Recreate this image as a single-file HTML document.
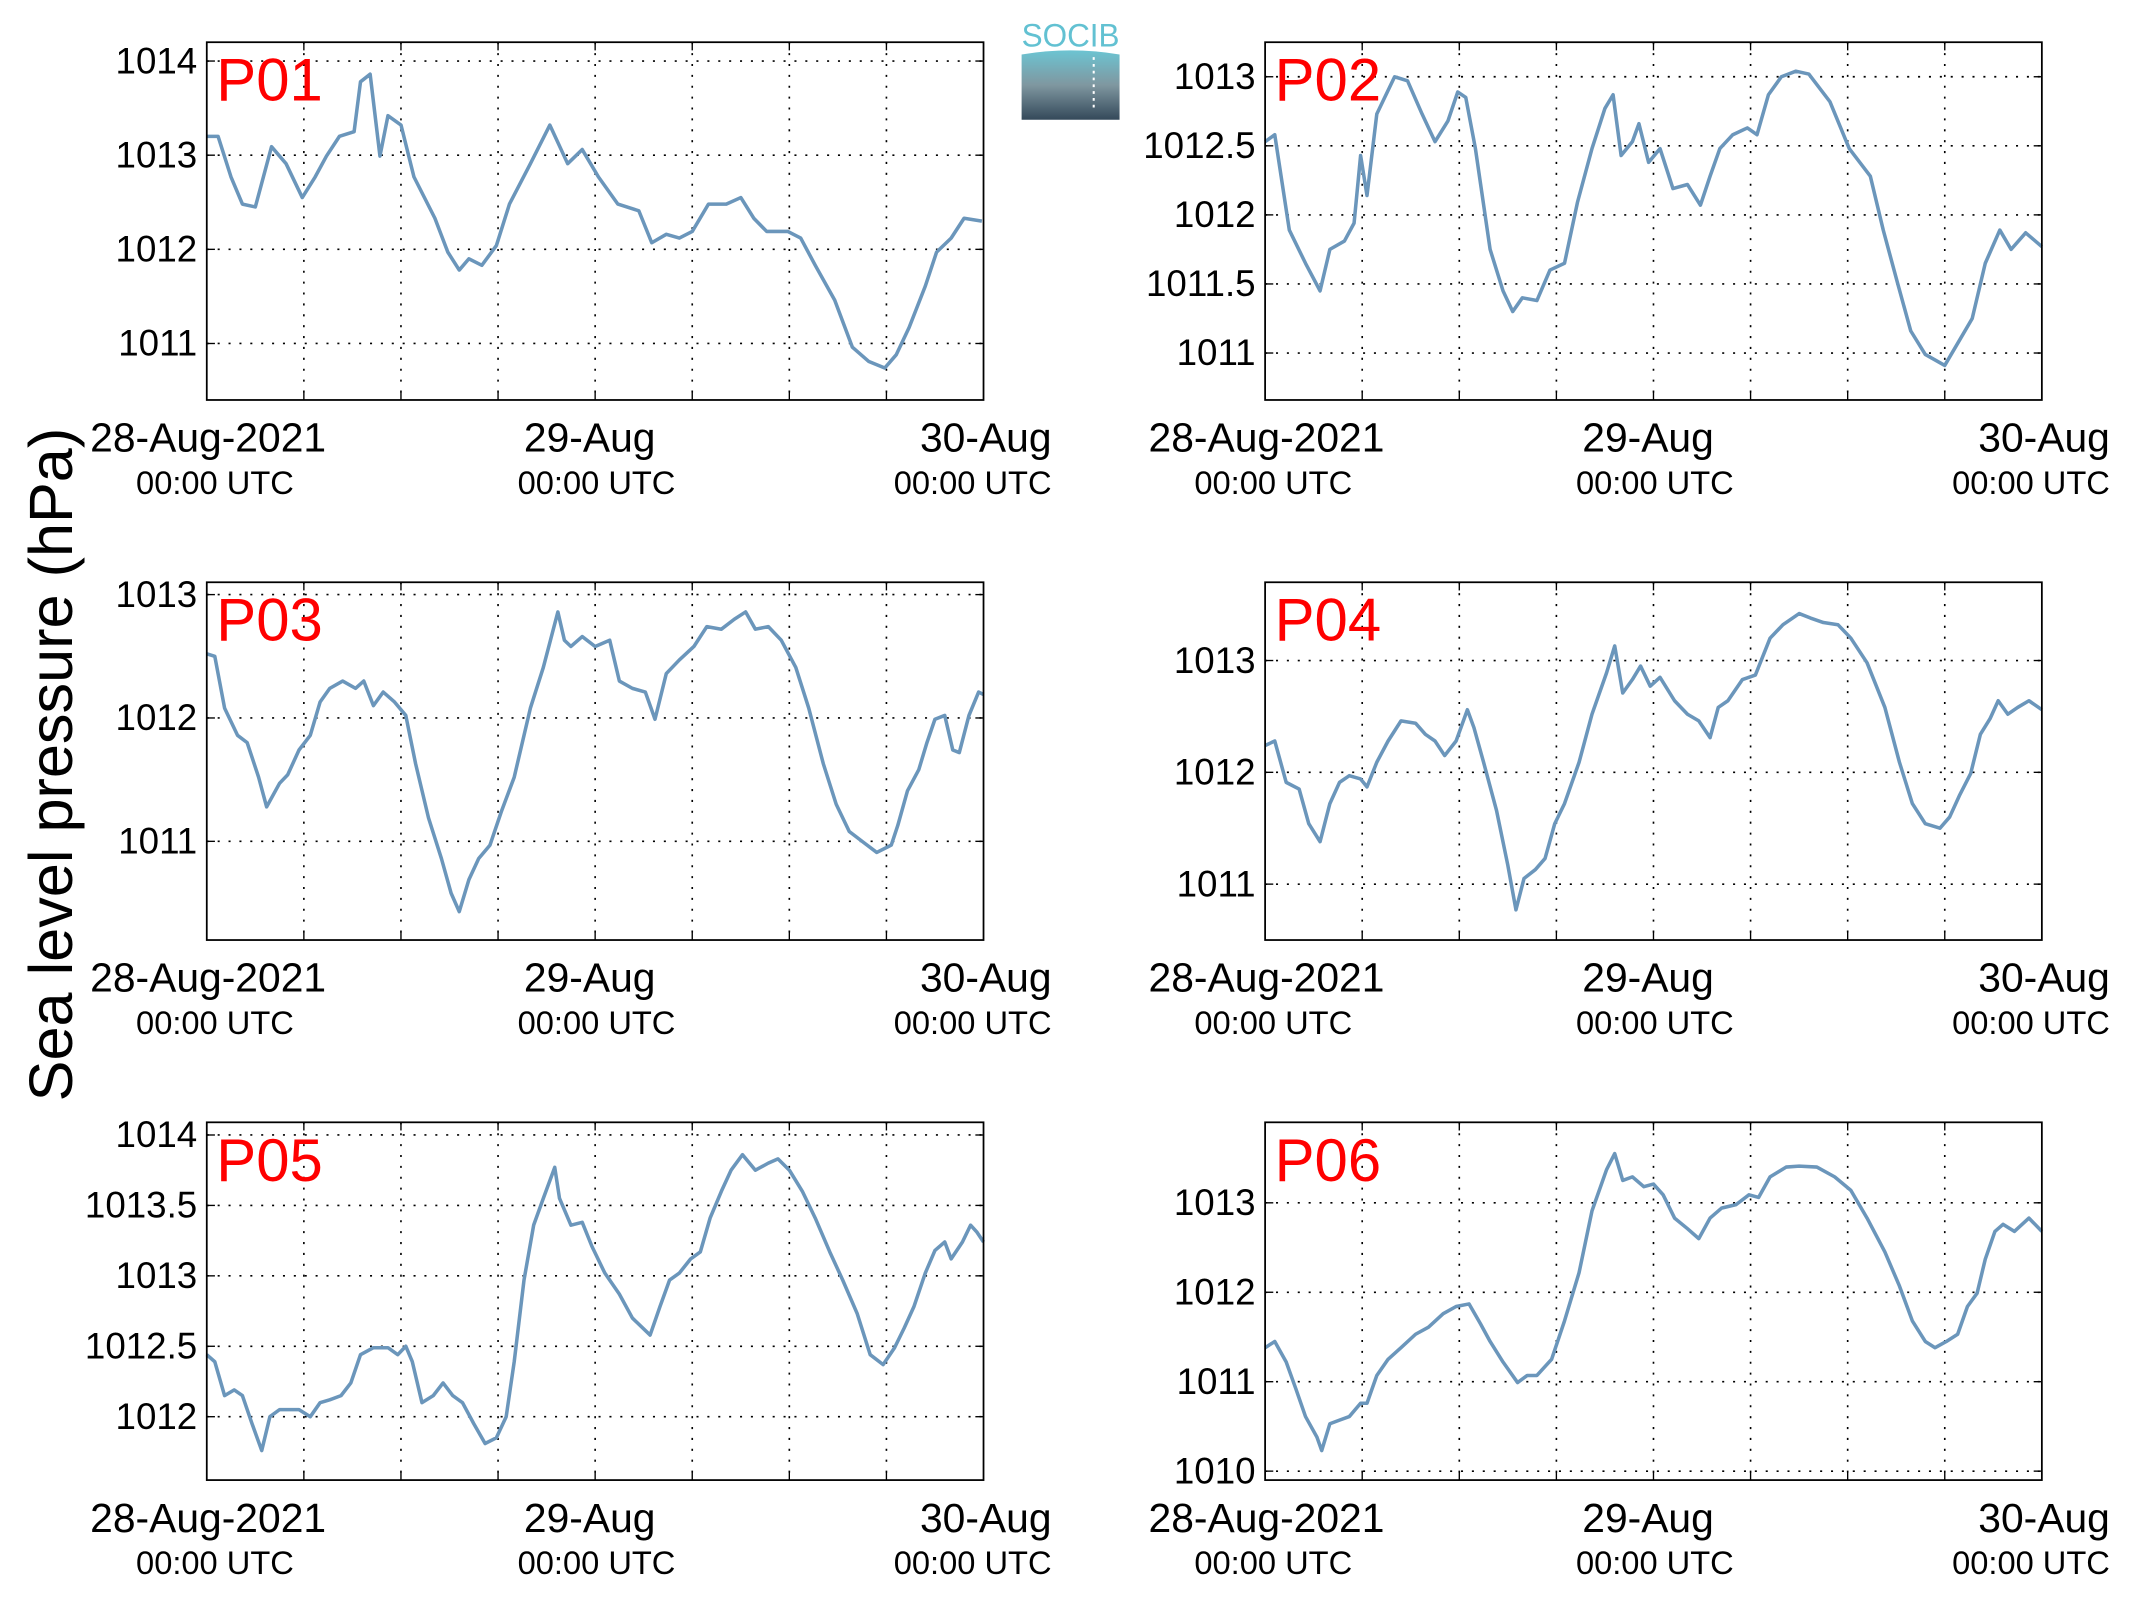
<!DOCTYPE html>
<html><head><meta charset="utf-8"><style>
html,body{margin:0;padding:0;background:#fff;}
svg{display:block;}
text{font-family:"Liberation Sans",sans-serif;}
</style></head><body>
<svg id="fig" width="2133" height="1608" viewBox="0 0 1568 1182" xmlns="http://www.w3.org/2000/svg">
<defs>
<linearGradient id="lg" x1="0" y1="0" x2="0" y2="1"><stop offset="0" stop-color="#6cc4d2"/><stop offset="0.5" stop-color="#7f97a0"/><stop offset="1" stop-color="#34495a"/></linearGradient>
</defs>
<g>
<text x="787" y="34" text-anchor="middle" font-size="24" fill="#62c1d2" textLength="72" lengthAdjust="spacingAndGlyphs">SOCIB</text>
<path d="M751 40 Q787 34 823 40 L823 88 L751 88 Z" fill="url(#lg)"/>
<line x1="804" y1="42" x2="804" y2="80" stroke="#fff" stroke-width="1.5" stroke-dasharray="2,3"/>
</g>
<text transform="translate(53,562) rotate(-90)" text-anchor="middle" font-size="45">Sea level pressure (hPa)</text>
</svg>
<script>
const P01_t=[0,0.7,1.5,2.2,3,4,4.9,5.9,6.7,7.4,8.2,9.1,9.5,10.1,10.7,11.2,12,12.8,14.1,14.9,15.6,16.2,17,17.9,18.7,20,21.2,22.3,23.2,24.2,25.4,26.7,27.5,28.4,29.2,30,31,32.1,33,33.8,34.6,35.9,36.7,37.6,38.8,39.9,40.9,41.9,42.6,43.4,44.4,45.1,46,46.8,47.9];
const P01_v=[1013.20,1013.20,1012.77,1012.48,1012.45,1013.09,1012.91,1012.55,1012.77,1012.99,1013.20,1013.25,1013.78,1013.86,1012.99,1013.42,1013.32,1012.77,1012.33,1011.97,1011.78,1011.90,1011.83,1012.04,1012.48,1012.91,1013.32,1012.91,1013.06,1012.77,1012.48,1012.41,1012.07,1012.16,1012.12,1012.19,1012.48,1012.48,1012.55,1012.33,1012.19,1012.19,1012.12,1011.83,1011.46,1010.96,1010.81,1010.74,1010.88,1011.17,1011.61,1011.97,1012.12,1012.33,1012.30];
const P02_t=[0,0.6,1.5,2.5,3.4,4.0,4.9,5.5,5.9,6.3,6.9,8.0,8.8,9.7,10.5,11.3,11.9,12.4,13.0,13.9,14.7,15.3,15.9,16.8,17.6,18.5,19.3,20.2,21.0,21.5,22.0,22.7,23.1,23.7,24.4,25.2,26.1,26.9,27.5,28.1,28.9,29.8,30.4,31.1,31.9,32.8,33.6,34.9,36.1,37.4,38.2,39.1,39.9,40.8,42.0,43.0,43.7,44.5,45.4,46.1,47.0,48.0];
const P02_v=[1012.53,1012.58,1011.89,1011.65,1011.45,1011.75,1011.81,1011.94,1012.43,1012.14,1012.73,1013.00,1012.97,1012.73,1012.53,1012.68,1012.89,1012.85,1012.48,1011.75,1011.45,1011.30,1011.40,1011.38,1011.60,1011.65,1012.09,1012.48,1012.77,1012.87,1012.43,1012.53,1012.66,1012.38,1012.48,1012.19,1012.22,1012.07,1012.28,1012.48,1012.58,1012.63,1012.58,1012.87,1013.00,1013.04,1013.02,1012.82,1012.48,1012.28,1011.89,1011.50,1011.16,1010.99,1010.91,1011.11,1011.25,1011.65,1011.89,1011.75,1011.87,1011.77];
const P03_t=[0,0.5,1.1,1.9,2.5,3.2,3.7,4.5,5,5.7,6.4,7,7.6,8.4,9.2,9.7,10.3,10.9,11.6,12.3,12.9,13.7,14.5,15.1,15.6,16.2,16.8,17.5,18.2,19,20,20.8,21.7,22.1,22.5,23.2,24,24.9,25.5,26.3,27.1,27.7,28.4,29.2,30.1,30.9,31.8,32.6,33.3,33.9,34.7,35.5,36.4,37.2,38.1,38.9,39.7,40.6,41.4,42.3,42.7,43.3,44,44.5,45,45.6,46.1,46.5,47.1,47.7,48];
const P03_v=[1012.52,1012.50,1012.08,1011.86,1011.80,1011.52,1011.28,1011.47,1011.54,1011.74,1011.86,1012.13,1012.24,1012.30,1012.24,1012.30,1012.10,1012.21,1012.13,1012.02,1011.63,1011.19,1010.86,1010.58,1010.43,1010.69,1010.86,1010.97,1011.24,1011.52,1012.08,1012.41,1012.86,1012.63,1012.58,1012.66,1012.58,1012.63,1012.30,1012.24,1012.21,1011.99,1012.36,1012.47,1012.58,1012.74,1012.72,1012.80,1012.86,1012.72,1012.74,1012.63,1012.41,1012.08,1011.63,1011.30,1011.08,1010.99,1010.91,1010.97,1011.13,1011.41,1011.58,1011.80,1011.99,1012.02,1011.74,1011.72,1012.02,1012.21,1012.19];
const P04_t=[0,0.6,1.3,2.1,2.7,3.4,4.0,4.6,5.2,5.9,6.3,6.9,7.6,8.4,9.3,9.9,10.5,11.1,11.8,12.5,12.9,13.5,14.3,15.0,15.5,16.0,16.7,17.3,17.9,18.5,19.4,20.2,21.1,21.6,22.1,22.7,23.2,23.8,24.4,25.3,26.1,26.8,27.5,28.0,28.6,29.5,30.3,31.2,32.0,33.0,33.7,34.5,35.4,36.2,37.2,38.3,39.2,40.0,40.8,41.7,42.3,42.9,43.6,44.2,44.8,45.3,45.9,46.5,47.2,48.0];
const P04_v=[1012.24,1012.28,1011.91,1011.85,1011.54,1011.38,1011.72,1011.91,1011.97,1011.94,1011.87,1012.09,1012.28,1012.46,1012.44,1012.34,1012.28,1012.15,1012.28,1012.56,1012.40,1012.09,1011.66,1011.17,1010.77,1011.05,1011.13,1011.23,1011.54,1011.72,1012.09,1012.52,1012.89,1013.13,1012.71,1012.83,1012.95,1012.77,1012.85,1012.64,1012.52,1012.46,1012.31,1012.58,1012.64,1012.83,1012.87,1013.20,1013.32,1013.42,1013.38,1013.34,1013.32,1013.20,1012.98,1012.58,1012.09,1011.72,1011.54,1011.50,1011.60,1011.79,1011.99,1012.34,1012.48,1012.64,1012.52,1012.58,1012.64,1012.56];
const P05_t=[0,0.5,1.1,1.7,2.2,2.8,3.4,3.9,4.5,5.0,5.7,6.4,7.0,7.6,8.3,8.9,9.5,10.3,11.2,11.8,12.3,12.7,13.3,14.0,14.6,15.2,15.8,16.5,17.2,17.9,18.5,19.0,19.6,20.2,20.8,21.5,21.8,22.5,23.2,23.8,24.6,25.5,26.3,27.4,28.0,28.6,29.2,29.9,30.5,31.1,31.8,32.4,33.1,33.9,34.7,35.3,36.0,36.8,37.6,38.5,39.3,40.2,41.0,41.8,42.5,43.1,43.7,44.4,45.0,45.6,46.0,46.7,47.2,47.6,48.0];
const P05_v=[1012.44,1012.39,1012.15,1012.19,1012.15,1011.95,1011.76,1012.0,1012.05,1012.05,1012.05,1012.0,1012.10,1012.12,1012.15,1012.24,1012.44,1012.49,1012.49,1012.44,1012.50,1012.39,1012.10,1012.15,1012.24,1012.15,1012.10,1011.95,1011.81,1011.85,1012.0,1012.39,1012.97,1013.36,1013.55,1013.77,1013.55,1013.36,1013.38,1013.21,1013.02,1012.87,1012.70,1012.58,1012.78,1012.97,1013.02,1013.12,1013.17,1013.41,1013.60,1013.75,1013.86,1013.75,1013.80,1013.83,1013.75,1013.60,1013.41,1013.17,1012.97,1012.73,1012.44,1012.37,1012.49,1012.63,1012.78,1013.02,1013.18,1013.24,1013.12,1013.24,1013.36,1013.31,1013.24];
const P06_t=[0,0.6,1.3,1.9,2.5,3.2,3.5,4.0,4.6,5.2,5.9,6.3,6.9,7.6,8.4,9.3,10.1,11.0,11.8,12.6,13.3,13.9,14.7,15.6,16.2,16.8,17.7,18.5,19.4,20.2,21.1,21.6,22.1,22.7,23.4,24.0,24.6,25.3,26.1,26.8,27.5,28.2,29.1,29.9,30.5,31.2,32.2,33.0,34.1,35.2,36.2,37.2,38.3,39.2,40.0,40.8,41.4,42.1,42.8,43.4,44.0,44.5,45.1,45.6,46.3,47.2,48.0];
const P06_v=[1011.38,1011.45,1011.22,1010.92,1010.61,1010.38,1010.23,1010.53,1010.57,1010.61,1010.76,1010.76,1011.07,1011.25,1011.38,1011.53,1011.61,1011.76,1011.84,1011.87,1011.65,1011.45,1011.22,1010.99,1011.07,1011.07,1011.25,1011.68,1012.22,1012.91,1013.37,1013.55,1013.25,1013.29,1013.18,1013.21,1013.09,1012.83,1012.71,1012.60,1012.83,1012.94,1012.98,1013.09,1013.06,1013.29,1013.40,1013.41,1013.40,1013.29,1013.14,1012.83,1012.45,1012.07,1011.68,1011.45,1011.38,1011.45,1011.53,1011.84,1011.99,1012.37,1012.68,1012.76,1012.68,1012.83,1012.68];
const ticks01=[1011,1012,1013,1014];
const ticks02=[1011,1011.5,1012,1012.5,1013];
const ticks03=[1011,1012,1013];
const ticks04=[1011,1012,1013];
const ticks05=[1012,1012.5,1013,1013.5,1014];
const ticks06=[1010,1011,1012,1013];
const xTickLabels=["28-Aug-2021","29-Aug","30-Aug"];
const xTickSub="00:00 UTC";
const panels=[
 {name:"P01",t:P01_t,v:P01_v,ticks:ticks01,L:152,T:31,ymin:1010.4,ymax:1014.2},
 {name:"P02",t:P02_t,v:P02_v,ticks:ticks02,L:930,T:31,ymin:1010.66,ymax:1013.25},
 {name:"P03",t:P03_t,v:P03_v,ticks:ticks03,L:152,T:428,ymin:1010.2,ymax:1013.1},
 {name:"P04",t:P04_t,v:P04_v,ticks:ticks04,L:930,T:428,ymin:1010.5,ymax:1013.7},
 {name:"P05",t:P05_t,v:P05_v,ticks:ticks05,L:152,T:825,ymin:1011.55,ymax:1014.09},
 {name:"P06",t:P06_t,v:P06_v,ticks:ticks06,L:930,T:825,ymin:1009.9,ymax:1013.9}
];
const NS="http://www.w3.org/2000/svg";
const svg=document.getElementById('fig');
function mk(tag,attrs,parent){const e=document.createElementNS(NS,tag);for(const k in attrs)e.setAttribute(k,attrs[k]);parent.appendChild(e);return e;}
const W=571,H=263;
panels.forEach(p=>{
 const g=mk('g',{},svg);
 
 
 const xs=h=>p.L+h/48*W;
 const ys=v=>p.T+(p.ymax-v)/(p.ymax-p.ymin)*H;
 for(let h=6;h<48;h+=6){
  const gl=mk('line',{x1:xs(h),x2:xs(h),y1:p.T,y2:p.T+H,stroke:'#000','stroke-width':1.2,'stroke-dasharray':'1.5,6.5'},g);
  
  
  mk('line',{x1:xs(h),x2:xs(h),y1:p.T+H,y2:p.T+H-6,stroke:'#000','stroke-width':1},g);
  mk('line',{x1:xs(h),x2:xs(h),y1:p.T,y2:p.T+6,stroke:'#000','stroke-width':1},g);
 }
 p.ticks.forEach(tv=>{
  const y=ys(tv);
  const gl=mk('line',{x1:p.L,x2:p.L+W,y1:y,y2:y,stroke:'#000','stroke-width':1.2,'stroke-dasharray':'1.5,6.5'},g);
  
  
  mk('line',{x1:p.L,x2:p.L+6,y1:y,y2:y,stroke:'#000','stroke-width':1},g);
  mk('line',{x1:p.L+W,x2:p.L+W-6,y1:y,y2:y,stroke:'#000','stroke-width':1},g);
  const tl=mk('text',{x:p.L-7,y:y+9,'text-anchor':'end','font-size':27},g);
  tl.textContent=String(tv);
  
  
 });
 let d='';
 const n=Math.min(p.t.length,p.v.length);
 for(let i=0;i<n;i++){d+=(i?'L':'M')+xs(p.t[i]).toFixed(1)+' '+ys(p.v[i]).toFixed(1);}
 const ln=mk('path',{d:d,fill:'none',stroke:'#6b96bb','stroke-width':2.6,'stroke-linejoin':'round'},g);
 
 
 const fr=mk('rect',{x:p.L,y:p.T,width:W,height:H,fill:'none',stroke:'#000','stroke-width':1.3},g);
 
 
 const lab=mk('text',{x:p.L+7,y:p.T+43,'font-size':44,fill:'#ff0000'},g);
 lab.textContent=p.name;
 
 
 const pos=[[p.L+1,'middle'],[p.L+W/2-4,'middle'],[p.L+W+50,'end']];
 xTickLabels.forEach((s,i)=>{
  const a=mk('text',{x:pos[i][0],y:p.T+301,'text-anchor':pos[i][1],'font-size':30},g);
  a.textContent=s;
  
  
  const bx=i==2?p.L+W+50:pos[i][0]+5;
  const b=mk('text',{x:bx,y:p.T+332,'text-anchor':pos[i][1],'font-size':24},g);
  b.textContent=xTickSub;
  
  
 });
});
</script>
</body></html>
